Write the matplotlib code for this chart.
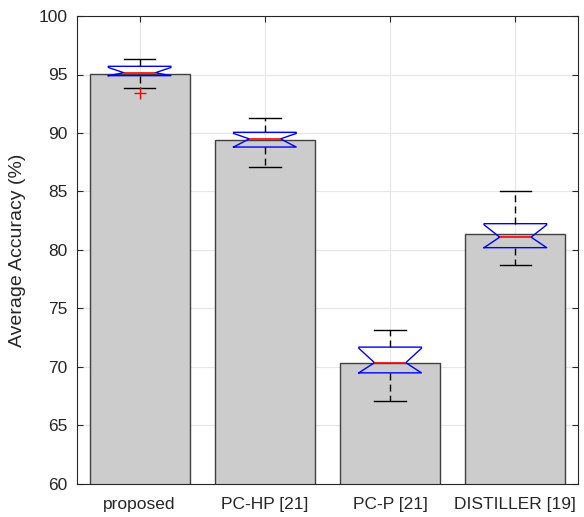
import matplotlib
matplotlib.use("Agg")
import matplotlib.pyplot as plt

plt.rcParams["font.family"] = ["Liberation Sans", "DejaVu Sans"]

methods = ["proposed", "PC-HP [21]", "PC-P [21]", "DISTILLER [19]"]
mean_acc = [95.07, 89.43, 70.37, 81.4]

# box statistics
q1 = [94.9, 88.8, 69.5, 80.2]
med = [95.15, 89.5, 70.37, 81.1]
q3 = [95.7, 90.06, 71.7, 82.25]
whislo = [93.85, 87.1, 67.1, 78.7]
whishi = [96.3, 91.3, 73.2, 85.0]
fliers = [[93.4], [], [], []]

positions = list(range(1, len(methods) + 1))

fig = plt.figure(figsize=(5.84, 5.17), dpi=100)
ax = fig.add_axes([77 / 584, 1 - 484 / 517, 501 / 584, 468 / 517])

ax.bar(positions, mean_acc, width=0.8, color="#cccccc", edgecolor="#404040",
       linewidth=1.0, zorder=2)

stats = []
for i in range(len(methods)):
    stats.append({
        "med": med[i], "q1": q1[i], "q3": q3[i],
        "whislo": whislo[i], "whishi": whishi[i],
        "fliers": fliers[i],
        "cilo": q1[i], "cihi": q3[i] - 0.1,
    })

ax.bxp(stats, positions=positions, widths=0.5, shownotches=True,
       patch_artist=False, manage_ticks=False, zorder=3,
       boxprops=dict(color="blue", linewidth=1.0),
       medianprops=dict(color="red", linewidth=1.2),
       whiskerprops=dict(color="black", linewidth=1.0, linestyle=(0, (5, 3))),
       capprops=dict(color="black", linewidth=1.0),
       flierprops=dict(marker="+", markeredgecolor="red", markersize=8,
                       linestyle="none"))

ax.set_xlim(0.5, 4.5)
ax.set_ylim(60, 100)
ax.set_yticks(range(60, 101, 5))
ax.set_xticks(positions)
ax.set_xticklabels(methods)
ax.set_ylabel("Average Accuracy (%)", fontsize=14, color="#262626", labelpad=9)

ax.grid(True, color="#e6e6e6", linewidth=0.8)
ax.set_axisbelow(True)
ax.tick_params(direction="in", length=4, labelsize=12.5, colors="#262626",
               right=True, top=True)
ax.tick_params(axis="y", pad=7)
ax.tick_params(axis="x", pad=9)
for s in ax.spines.values():
    s.set_color("#262626")
    s.set_linewidth(0.8)

fig.savefig("out.png", dpi=100)
